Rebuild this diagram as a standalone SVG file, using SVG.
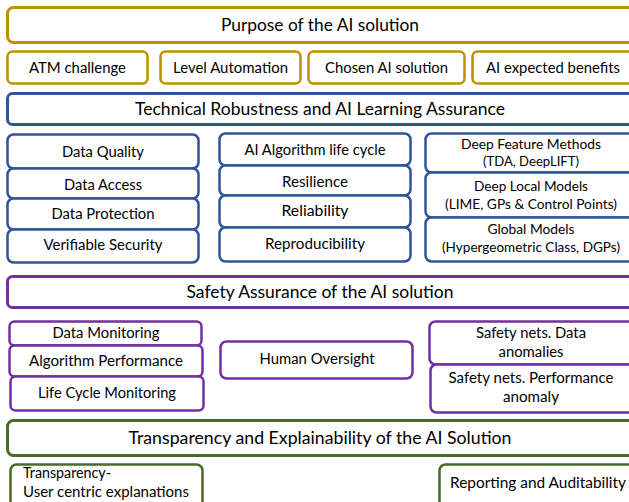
<svg xmlns="http://www.w3.org/2000/svg" width="629" height="502" viewBox="0 0 629 502">
<style>
rect{fill:#fff;stroke-width:2.5}
.g{stroke:#BF9000}.b{stroke:#2F5597}.p{stroke:#7030A0}.v{stroke:#4A6A2A}
text{font-family:Lato,"Open Sans","Liberation Sans",sans-serif;fill:#000;text-anchor:middle}
.h{font-size:16.5px}.s{font-size:14.5px}.m{font-size:14px}.l{text-anchor:start}
</style>
<rect width="629" height="502" style="fill:#fff;stroke:none"/>
<g id="purpose"><rect class="g" x="7.5" y="7.5" width="630" height="35" rx="6" style="stroke-width:3"/><text class="h" x="320" y="31" textLength="198" lengthAdjust="spacingAndGlyphs">Purpose of the AI solution</text></g>
<g id="atm"><rect class="g" x="7.5" y="51.5" width="140" height="32" rx="5"/><text class="s" x="77.5" y="73" textLength="97" lengthAdjust="spacingAndGlyphs">ATM challenge</text></g>
<g id="level"><rect class="g" x="160.5" y="51.5" width="140" height="32" rx="5"/><text class="s" x="230.5" y="73" textLength="115" lengthAdjust="spacingAndGlyphs">Level Automation</text></g>
<g id="chosen"><rect class="g" x="308.5" y="51.5" width="156" height="32" rx="5"/><text class="s" x="386.5" y="73" textLength="123" lengthAdjust="spacingAndGlyphs">Chosen AI solution</text></g>
<g id="benefits"><rect class="g" x="472.5" y="51.5" width="165" height="32" rx="5"/><text class="s" x="553" y="73" textLength="134" lengthAdjust="spacingAndGlyphs">AI expected benefits</text></g>
<g id="technical"><rect class="b" x="7.5" y="93.5" width="630" height="31" rx="5" style="stroke-width:3"/><text class="h" x="320" y="115" textLength="370" lengthAdjust="spacingAndGlyphs">Technical Robustness and AI Learning Assurance</text></g>
<g id="dq"><rect class="b" x="7.5" y="134.5" width="191" height="34" rx="6"/><text class="s" x="103" y="157" textLength="82" lengthAdjust="spacingAndGlyphs">Data Quality</text></g>
<g id="da"><rect class="b" x="7.5" y="168.5" width="191" height="30" rx="6"/><text class="s" x="103" y="190" textLength="78" lengthAdjust="spacingAndGlyphs">Data Access</text></g>
<g id="dp"><rect class="b" x="7.5" y="198.5" width="191" height="31" rx="6"/><text class="s" x="103" y="219" textLength="103" lengthAdjust="spacingAndGlyphs">Data Protection</text></g>
<g id="vs"><rect class="b" x="7.5" y="229.5" width="191" height="33" rx="6"/><text class="s" x="103" y="250" textLength="119" lengthAdjust="spacingAndGlyphs">Verifiable Security</text></g>
<g id="alc"><rect class="b" x="219.5" y="133.5" width="191" height="32" rx="6"/><text class="s" x="315" y="155" textLength="141" lengthAdjust="spacingAndGlyphs">AI Algorithm life cycle</text></g>
<g id="res"><rect class="b" x="219.5" y="165.5" width="191" height="30" rx="6"/><text class="s" x="315" y="187" textLength="66" lengthAdjust="spacingAndGlyphs">Resilience</text></g>
<g id="rel"><rect class="b" x="219.5" y="195.5" width="191" height="32" rx="6"/><text class="s" x="315" y="216" textLength="67" lengthAdjust="spacingAndGlyphs">Reliability</text></g>
<g id="rep"><rect class="b" x="219.5" y="227.5" width="191" height="34" rx="6"/><text class="s" x="315" y="249" textLength="100" lengthAdjust="spacingAndGlyphs">Reproducibility</text></g>
<g id="dfm"><rect class="b" x="425.5" y="133.5" width="210" height="39" rx="6"/><text class="m" x="531" y="149" textLength="140" lengthAdjust="spacingAndGlyphs">Deep Feature Methods</text><text class="m" x="531" y="166" textLength="96" lengthAdjust="spacingAndGlyphs">(TDA, DeepLIFT)</text></g>
<g id="dlm"><rect class="b" x="425.5" y="172.5" width="210" height="45" rx="6"/><text class="m" x="531" y="191" textLength="114" lengthAdjust="spacingAndGlyphs">Deep Local Models</text><text class="m" x="531" y="209" textLength="172" lengthAdjust="spacingAndGlyphs">(LIME, GPs &amp; Control Points)</text></g>
<g id="gm"><rect class="b" x="425.5" y="217.5" width="210" height="44" rx="6"/><text class="m" x="531" y="234" textLength="87" lengthAdjust="spacingAndGlyphs">Global Models</text><text class="m" x="531" y="252" textLength="178" lengthAdjust="spacingAndGlyphs">(Hypergeometric Class, DGPs)</text></g>
<g id="safety"><rect class="p" x="7.5" y="276.5" width="630" height="31" rx="5" style="stroke-width:3"/><text class="h" x="320" y="298" textLength="267" lengthAdjust="spacingAndGlyphs">Safety Assurance of the AI solution</text></g>
<g id="dm"><rect class="p" x="9.5" y="321.5" width="192" height="24" rx="5"/><text class="s" x="106" y="338" textLength="107" lengthAdjust="spacingAndGlyphs">Data Monitoring</text></g>
<g id="ap"><rect class="p" x="9.5" y="345.5" width="193" height="31" rx="5"/><text class="s" x="106" y="366" textLength="154" lengthAdjust="spacingAndGlyphs">Algorithm Performance</text></g>
<g id="lcm"><rect class="p" x="10.5" y="376.5" width="193" height="34" rx="5"/><text class="s" x="107" y="398" textLength="138" lengthAdjust="spacingAndGlyphs">Life Cycle Monitoring</text></g>
<g id="ho"><rect class="p" x="220.5" y="341.5" width="192" height="37" rx="6"/><text class="s" x="317" y="364" textLength="115" lengthAdjust="spacingAndGlyphs">Human Oversight</text></g>
<g id="snd"><rect class="p" x="429.5" y="321.5" width="210" height="43" rx="6"/><text class="s" x="531" y="338" textLength="110" lengthAdjust="spacingAndGlyphs">Safety nets. Data</text><text class="s" x="531" y="357" textLength="65" lengthAdjust="spacingAndGlyphs">anomalies</text></g>
<g id="snp"><rect class="p" x="430.5" y="364.5" width="210" height="48" rx="6"/><text class="s" x="531" y="383" textLength="165" lengthAdjust="spacingAndGlyphs">Safety nets. Performance</text><text class="s" x="531" y="402" textLength="56" lengthAdjust="spacingAndGlyphs">anomaly</text></g>
<g id="transparency"><rect class="v" x="7.5" y="420.5" width="630" height="35" rx="6" style="stroke-width:3"/><text class="h" x="320" y="444" textLength="383" lengthAdjust="spacingAndGlyphs">Transparency and Explainability of the AI Solution</text></g>
<g id="tuce"><rect class="v" x="10.5" y="464.5" width="192" height="45" rx="6"/><text class="s l" x="23" y="478" textLength="88" lengthAdjust="spacingAndGlyphs">Transparency-</text><text class="s l" x="23" y="497" textLength="166" lengthAdjust="spacingAndGlyphs">User centric explanations</text></g>
<g id="ra"><rect class="v" x="439.5" y="464.5" width="200" height="45" rx="6"/><text class="s" x="538" y="488" textLength="176" lengthAdjust="spacingAndGlyphs">Reporting and Auditability</text></g>
<g id="connectors"></g>
</svg>
